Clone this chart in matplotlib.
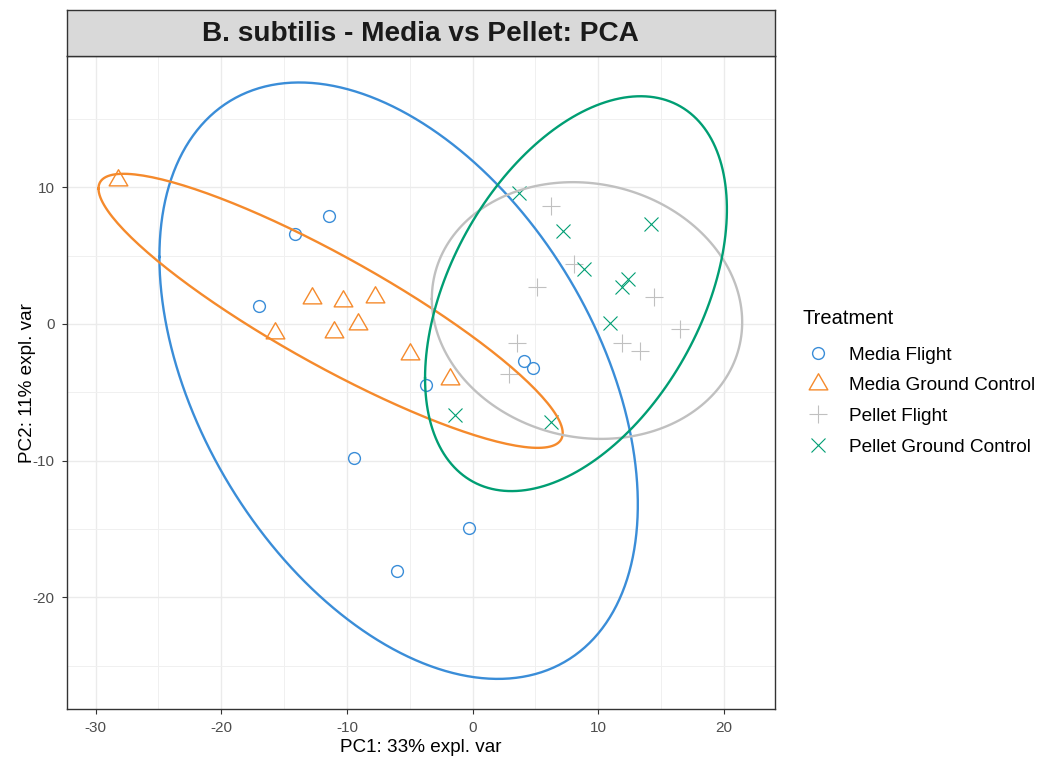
import numpy as np
import matplotlib
matplotlib.use("Agg")
import matplotlib.pyplot as plt
from matplotlib.path import Path

plt.rcParams["font.family"] = ["Liberation Sans", "DejaVu Sans"]
plt.rcParams["axes.unicode_minus"] = False

# PCA scores (PC1, PC2) per treatment group
media_flight_x = [-11.4, -14.1, -17.0, -3.7, -9.4, -0.3, -6.0, 4.1, 4.8]
media_flight_y = [7.9, 6.6, 1.3, -4.5, -9.8, -14.9, -18.1, -2.7, -3.2]

media_ground_x = [-28.2, -12.8, -10.3, -7.8, -9.1, -11.0, -15.7, -5.0, -1.8]
media_ground_y = [10.5, 1.9, 1.7, 2.0, 0.0, -0.6, -0.7, -2.2, -4.0]

pellet_flight_x = [6.2, 8.1, 5.1, 14.4, 16.5, 11.9, 13.3, 3.5, 2.9]
pellet_flight_y = [8.6, 4.4, 2.7, 2.0, -0.4, -1.4, -2.0, -1.4, -3.7]

pellet_ground_x = [3.7, 7.2, 14.2, 8.9, 12.4, 11.9, 10.9, -1.4, 6.2]
pellet_ground_y = [9.6, 6.8, 7.3, 4.0, 3.3, 2.7, 0.1, -6.7, -7.2]

groups = ["Media Flight", "Media Ground Control", "Pellet Flight", "Pellet Ground Control"]
colors = ["#3A8DD8", "#F58A2C", "#C0C0C0", "#009E73"]

x_ticks = [-30, -20, -10, 0, 10, 20]
y_ticks = [-20, -10, 0, 10]

# equilateral triangle centred on its centroid (like R pch 2)
tri = Path([(-1, -0.577), (1, -0.577), (0, 1.155), (-1, -0.577)],
           [Path.MOVETO, Path.LINETO, Path.LINETO, Path.CLOSEPOLY])

data = [
    (media_flight_x, media_flight_y, "o", 8.5, 1.0),
    (media_ground_x, media_ground_y, tri, 15.5, 1.0),
    (pellet_flight_x, pellet_flight_y, "+", 13, 0.8),
    (pellet_ground_x, pellet_ground_y, "x", 10, 0.8),
]


def ellipse(x, y, prob=0.95, n=200):
    # normal-probability ellipse from the group covariance
    x = np.asarray(x, float)
    y = np.asarray(y, float)
    sigma = np.cov(x, y)
    mu = np.array([x.mean(), y.mean()])
    ed = np.sqrt(-2 * np.log(1 - prob))
    t = np.linspace(-np.pi, np.pi, n)
    circle = np.column_stack([np.cos(t), np.sin(t)])
    pts = circle @ np.linalg.cholesky(sigma).T * ed + mu
    return pts[:, 0], pts[:, 1]


fig = plt.figure(figsize=(10.4, 7.6), dpi=100)
ax = fig.add_axes([0.0641, 0.0667, 0.681, 0.8596])

for (xs, ys, mk, ms, lw), name, col in zip(data, groups, colors):
    ax.plot(xs, ys, linestyle="none", marker=mk, markersize=ms,
            markerfacecolor="none", markeredgecolor=col, markeredgewidth=lw,
            label=name, zorder=3)

for (xs, ys, *_), col in zip(data, colors):
    ex, ey = ellipse(xs, ys)
    ax.plot(ex, ey, color=col, linewidth=1.7, zorder=4)

ax.set_xlim(-32.3, 24.05)
ax.set_ylim(-28.2, 19.6)
ax.set_xticks(x_ticks)
ax.set_yticks(y_ticks)
ax.set_xticks(np.arange(-25, 25, 10), minor=True)
ax.set_yticks(np.arange(-25, 20, 10), minor=True)
ax.grid(which="major", color="#EBEBEB", linewidth=1.0)
ax.grid(which="minor", color="#F0F0F0", linewidth=0.7)
ax.set_axisbelow(True)
ax.tick_params(which="major", length=3.5, width=0.8, color="#333333",
               labelsize=11, labelcolor="#4D4D4D", pad=5)
ax.tick_params(which="minor", length=0)
for sp in ax.spines.values():
    sp.set_color("#333333")
    sp.set_linewidth(1.0)

ax.set_xlabel("PC1: 33% expl. var", fontsize=13.6, labelpad=3)
ax.set_ylabel("PC2: 11% expl. var", fontsize=13.6, labelpad=-2)

# title strip
strip = fig.add_axes([0.0641, 0.9263, 0.681, 0.0605])
strip.set_facecolor("#D9D9D9")
strip.set_xticks([])
strip.set_yticks([])
for sp in strip.spines.values():
    sp.set_color("#333333")
    sp.set_linewidth(1.0)
strip.text(0.5, 0.47, "B. subtilis - Media vs Pellet: PCA", ha="center", va="center",
           fontsize=20.2, fontweight="bold", color="#1A1A1A", transform=strip.transAxes)

# legend: title placed on its own, keys below it
fig.text(0.772, 1 - 318 / 760, "Treatment", ha="left", va="center", fontsize=14.5)
leg = ax.legend(loc="center left", bbox_to_anchor=(0.765, 1 - 401 / 760),
                bbox_transform=fig.transFigure, frameon=False,
                fontsize=13.7, handletextpad=0.85, labelspacing=0.70,
                handlelength=1.56, borderaxespad=0)

fig.savefig("out.png", dpi=100)
